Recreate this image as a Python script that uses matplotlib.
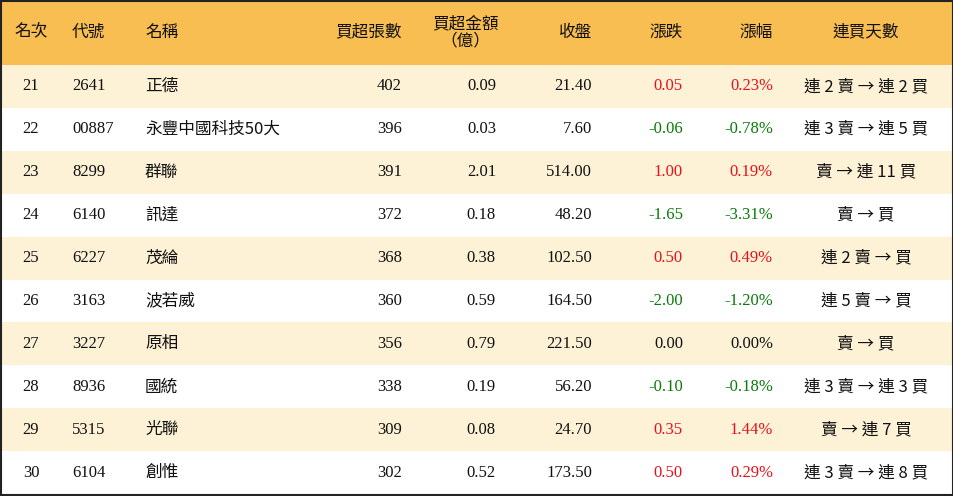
import matplotlib
matplotlib.use("Agg")
import matplotlib.pyplot as plt
from matplotlib.patches import Rectangle

headers = ["名次", "代號", "名稱", "買超張數", "買超金額\n（億）", "收盤", "漲跌", "漲幅", "連買天數"]
ranks = ["21", "22", "23", "24", "25", "26", "27", "28", "29", "30"]
codes = ["2641", "00887", "8299", "6140", "6227", "3163", "3227", "8936", "5315", "6104"]
names = ["正德", "永豐中國科技50大", "群聯", "訊達", "茂綸", "波若威", "原相", "國統", "光聯", "創惟"]
shares = ["402", "396", "391", "372", "368", "360", "356", "338", "309", "302"]
amounts = ["0.09", "0.03", "2.01", "0.18", "0.38", "0.59", "0.79", "0.19", "0.08", "0.52"]
closes = ["21.40", "7.60", "514.00", "48.20", "102.50", "164.50", "221.50", "56.20", "24.70", "173.50"]
changes = ["0.05", "-0.06", "1.00", "-1.65", "0.50", "-2.00", "0.00", "-0.10", "0.35", "0.50"]
pcts = ["0.23%", "-0.78%", "0.19%", "-3.31%", "0.49%", "-1.20%", "0.00%", "-0.18%", "1.44%", "0.29%"]
streaks = ["連 2 賣 → 連 2 買", "連 3 賣 → 連 5 買", "賣 → 連 11 買", "賣 → 買", "連 2 賣 → 買",
           "連 5 賣 → 買", "賣 → 買", "連 3 賣 → 連 3 買", "賣 → 連 7 買", "連 3 賣 → 連 8 買"]

W, H = 954, 496
fig = plt.figure(figsize=(W/100, H/100), dpi=100)
ax = fig.add_axes([0, 0, 1, 1])
ax.set_xlim(0, W); ax.set_ylim(H, 0); ax.axis("off")

CJK = "Noto Sans CJK TC"
SER = "Liberation Serif"
hdr_h = 65
row_h = (H - 2 - hdr_h) / 10
ax.add_patch(Rectangle((0, 0), W, hdr_h, color="#F9BE52", lw=0))
for i in range(10):
    y0 = hdr_h + i*row_h
    if i % 2 == 0:
        ax.add_patch(Rectangle((0, y0), W, row_h, color="#FDF1D6", lw=0))
ax.add_patch(Rectangle((1, 1), W-2, H-2, fill=False, ec="#222222", lw=1.5))

# header
hx = [(31, "center"), (72, "left"), (145, "left"), (402, "right"), (465, "center"),
      (592, "right"), (683, "right"), (773, "right"), (866, "center")]
for (x, ha), h in zip(hx, headers):
    ax.text(x, 32, h, ha=ha, va="center", fontsize=12, fontfamily=CJK, color="#111111", linespacing=1.0)

red, green, black = "#E8101A", "#0A7A0A", "#111111"
def col(v):
    f = float(v.rstrip("%"))
    return red if f > 0 else green if f < 0 else black

for i in range(10):
    yc = hdr_h + (i+0.5)*row_h
    ax.text(31, yc, ranks[i], ha="center", va="center", fontsize=12, fontfamily=SER, color=black)
    ax.text(72, yc, codes[i], ha="left", va="center", fontsize=12, fontfamily=SER, color=black)
    ax.text(145, yc, names[i], ha="left", va="center", fontsize=12, fontfamily=CJK, color=black)
    ax.text(402, yc, shares[i], ha="right", va="center", fontsize=12, fontfamily=SER, color=black)
    ax.text(496, yc, amounts[i], ha="right", va="center", fontsize=12, fontfamily=SER, color=black)
    ax.text(592, yc, closes[i], ha="right", va="center", fontsize=12, fontfamily=SER, color=black)
    ax.text(683, yc, changes[i], ha="right", va="center", fontsize=12, fontfamily=SER, color=col(changes[i]))
    ax.text(773, yc, pcts[i], ha="right", va="center", fontsize=12, fontfamily=SER, color=col(pcts[i]))
    ax.text(866, yc, streaks[i], ha="center", va="center", fontsize=12, fontfamily=CJK, color=black)

fig.savefig("out.png", dpi=100)
